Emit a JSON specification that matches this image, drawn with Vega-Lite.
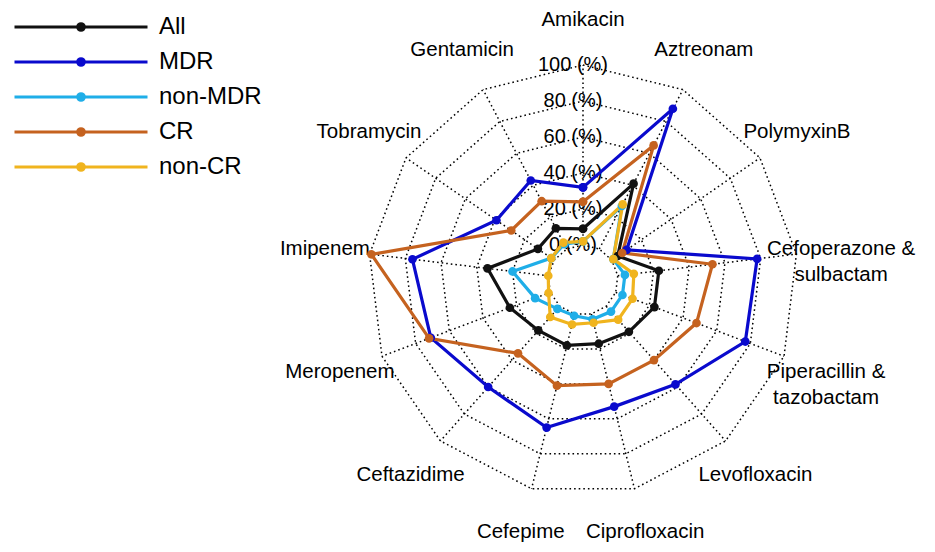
{
  "$schema": "https://vega.github.io/schema/vega-lite/v6.json",
  "width": 935,
  "height": 552,
  "autosize": "none",
  "padding": 0,
  "background": "white",
  "config": {"view": {"stroke": null}, "font": "Liberation Sans"},
  "datasets": {
    "rates": [
      {"drug": "Amikacin", "i": 0, "All": 9, "MDR": 32, "non-MDR": 2, "CR": 24, "non-CR": 2},
      {"drug": "Aztreonam", "i": 1, "All": 41, "MDR": 88, "non-MDR": 27, "CR": 65, "non-CR": 28},
      {"drug": "PolymyxinB", "i": 2, "All": 4, "MDR": 10, "non-MDR": 1, "CR": 7, "non-CR": 1},
      {"drug": "Cefoperazone & sulbactam", "i": 3, "All": 23, "MDR": 78, "non-MDR": 4, "CR": 53, "non-CR": 9},
      {"drug": "Piperacillin & tazobactam", "i": 4, "All": 23, "MDR": 77, "non-MDR": 4, "CR": 48, "non-CR": 10},
      {"drug": "Levofloxacin", "i": 5, "All": 19, "MDR": 58, "non-MDR": 4, "CR": 40, "non-CR": 10},
      {"drug": "Ciprofloxacin", "i": 6, "All": 17, "MDR": 53, "non-MDR": 3, "CR": 40, "non-CR": 5},
      {"drug": "Cefepime", "i": 7, "All": 18, "MDR": 65, "non-MDR": 1, "CR": 41, "non-CR": 6},
      {"drug": "Ceftazidime", "i": 8, "All": 18, "MDR": 60, "non-MDR": 2, "CR": 35, "non-CR": 8},
      {"drug": "Meropenem", "i": 9, "All": 24, "MDR": 71, "non-MDR": 9, "CR": 72, "non-CR": 1},
      {"drug": "Imipenem", "i": 10, "All": 34, "MDR": 76, "non-MDR": 20, "CR": 99, "non-CR": 0},
      {"drug": "Tobramycin", "i": 11, "All": 11, "MDR": 39, "non-MDR": 2, "CR": 29, "non-CR": 2},
      {"drug": "Gentamicin", "i": 12, "All": 13, "MDR": 43, "non-MDR": 3, "CR": 30, "non-CR": 4},
      {"drug": "Amikacin", "i": 13, "All": 9, "MDR": 32, "non-MDR": 2, "CR": 24, "non-CR": 2}
    ],
    "axes": [
      {"i": 0, "label": "Amikacin"},
      {"i": 1, "label": "Aztreonam"},
      {"i": 2, "label": "PolymyxinB"},
      {"i": 3, "label": "Cefoperazone &\nsulbactam"},
      {"i": 4, "label": "Piperacillin &\ntazobactam"},
      {"i": 5, "label": "Levofloxacin"},
      {"i": 6, "label": "Ciprofloxacin"},
      {"i": 7, "label": "Cefepime"},
      {"i": 8, "label": "Ceftazidime"},
      {"i": 9, "label": "Meropenem"},
      {"i": 10, "label": "Imipenem"},
      {"i": 11, "label": "Tobramycin"},
      {"i": 12, "label": "Gentamicin"}
    ],
    "grid": [
      {"ring": 0, "label": "0 (%)", "i": [0, 1, 2, 3, 4, 5, 6, 7, 8, 9, 10, 11, 12, 13]},
      {"ring": 20, "label": "20 (%)", "i": [0, 1, 2, 3, 4, 5, 6, 7, 8, 9, 10, 11, 12, 13]},
      {"ring": 40, "label": "40 (%)", "i": [0, 1, 2, 3, 4, 5, 6, 7, 8, 9, 10, 11, 12, 13]},
      {"ring": 60, "label": "60 (%)", "i": [0, 1, 2, 3, 4, 5, 6, 7, 8, 9, 10, 11, 12, 13]},
      {"ring": 80, "label": "80 (%)", "i": [0, 1, 2, 3, 4, 5, 6, 7, 8, 9, 10, 11, 12, 13]},
      {"ring": 100, "label": "100 (%)", "i": [0, 1, 2, 3, 4, 5, 6, 7, 8, 9, 10, 11, 12, 13]}
    ]
  },
  "layer": [
    {
      "data": {"name": "grid"},
      "transform": [
        {"flatten": ["i"]},
        {"calculate": "datum.i * 2 * PI / 13", "as": "theta"},
        {"calculate": "(35 + 1.8 * datum.ring) * sin(datum.theta)", "as": "x"},
        {"calculate": "(35 + 1.8 * datum.ring) * cos(datum.theta)", "as": "y"}
      ],
      "mark": {"type": "line", "color": "black", "strokeWidth": 1.5, "strokeDash": [1.6, 3]},
      "encoding": {
        "x": {"field": "x", "type": "quantitative", "scale": {"domain": [-583, 352], "nice": false, "zero": false}, "axis": null},
        "y": {"field": "y", "type": "quantitative", "scale": {"domain": [-272, 280], "nice": false, "zero": false}, "axis": null},
        "detail": {"field": "ring"},
        "order": {"field": "i"}
      }
    },
    {
      "data": {"name": "axes"},
      "transform": [
        {"calculate": "datum.i * 2 * PI / 13", "as": "theta"},
        {"calculate": "35 * sin(datum.theta)", "as": "x"},
        {"calculate": "35 * cos(datum.theta)", "as": "y"},
        {"calculate": "215 * sin(datum.theta)", "as": "x2"},
        {"calculate": "215 * cos(datum.theta)", "as": "y2"}
      ],
      "mark": {"type": "rule", "color": "black", "strokeWidth": 1.5, "strokeDash": [1.6, 3]},
      "encoding": {
        "x": {"field": "x", "type": "quantitative"},
        "y": {"field": "y", "type": "quantitative"},
        "x2": {"field": "x2"},
        "y2": {"field": "y2"}
      }
    },
    {
      "data": {"name": "grid"},
      "transform": [{"calculate": "35 + 1.8 * datum.ring", "as": "y"}],
      "mark": {"type": "text", "fontSize": 20, "color": "black", "align": "center", "baseline": "middle", "dx": -10},
      "encoding": {
        "x": {"datum": 0, "type": "quantitative"},
        "y": {"field": "y", "type": "quantitative"},
        "text": {"field": "label"}
      }
    },
    {
      "data": {"name": "axes"},
      "transform": [
        {"calculate": "datum.i * 2 * PI / 13", "as": "theta"},
        {"calculate": "260 * sin(datum.theta)", "as": "x"},
        {"calculate": "260 * cos(datum.theta)", "as": "y"}
      ],
      "mark": {"type": "text", "fontSize": 20.5, "color": "black", "align": "center", "baseline": "middle", "lineBreak": "\n", "lineHeight": 26},
      "encoding": {
        "x": {"field": "x", "type": "quantitative"},
        "y": {"field": "y", "type": "quantitative"},
        "text": {"field": "label"}
      }
    },
    {
      "data": {"name": "rates"},
      "transform": [
        {"fold": ["All", "MDR", "non-MDR", "CR", "non-CR"], "as": ["series", "value"]},
        {"calculate": "datum.i * 2 * PI / 13", "as": "theta"},
        {"calculate": "(35 + 1.8 * datum.value) * sin(datum.theta)", "as": "x"},
        {"calculate": "(35 + 1.8 * datum.value) * cos(datum.theta)", "as": "y"}
      ],
      "layer": [
        {
          "mark": {"type": "line", "strokeWidth": 3.2},
          "encoding": {
            "x": {"field": "x", "type": "quantitative"},
            "y": {"field": "y", "type": "quantitative"},
            "order": {"field": "i"},
            "color": {
              "field": "series",
              "type": "nominal",
              "scale": {
                "domain": ["All", "MDR", "non-MDR", "CR", "non-CR"],
                "range": ["#111111", "#0a0acd", "#1faee8", "#c5621f", "#f0b41e"]
              },
              "legend": {
                "title": null,
                "orient": "none",
                "legendX": 69,
                "legendY": 15,
                "padding": 0,
                "symbolType": "M-13.3,0L13.3,0M-0.65,0A0.65,0.65,0,1,1,0.65,0A0.65,0.65,0,1,1,-0.65,0Z",
                "symbolSize": 100,
                "symbolStrokeWidth": 3.2,
                "symbolOpacity": 1,
                "labelFontSize": 24,
                "labelFont": "Liberation Sans",
                "labelColor": "black",
                "labelOffset": 66,
                "labelLimit": 300,
                "rowPadding": 11,
                "encode": {
                  "symbols": {
                    "update": {
                      "fill": {"scale": "color", "field": "value"},
                      "stroke": {"scale": "color", "field": "value"}
                    }
                  }
                }
              }
            }
          }
        },
        {
          "mark": {"type": "point", "filled": true, "size": 75, "opacity": 1},
          "encoding": {
            "x": {"field": "x", "type": "quantitative"},
            "y": {"field": "y", "type": "quantitative"},
            "color": {"field": "series", "type": "nominal"}
          }
        }
      ]
    }
  ]
}
